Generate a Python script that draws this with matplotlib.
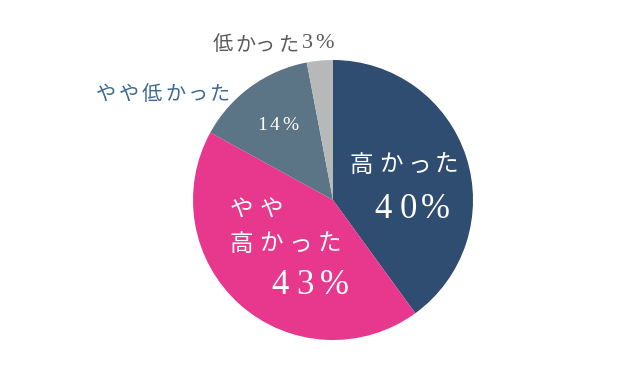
import matplotlib
matplotlib.use("Agg")
import matplotlib.pyplot as plt

labels = ["高かった", "やや高かった", "やや低かった", "低かった"]
values = [40, 43, 14, 3]
colors = ["#2f4d70", "#e8388e", "#5b7486", "#b7b8b8"]

FAM = ["Liberation Serif", "Noto Sans CJK JP", "DejaVu Sans"]

fig = plt.figure(figsize=(6.4, 3.65), dpi=100)
ax = fig.add_axes([0, 0, 1, 1])

H = 365
ax.pie(values, colors=colors, startangle=90, counterclock=False,
       center=(333, H - 200), radius=140,
       wedgeprops=dict(linewidth=0))
ax.set_xlim(0, 640)
ax.set_ylim(0, 365)
ax.set_aspect("equal")
ax.axis("off")


def spaced(s, xs, y, size, color):
    for ch, x in zip(s, xs):
        ax.text(x, H - y, ch, ha="center", va="center", fontsize=size,
                color=color, family=FAM)


# 高かった 40%
spaced("高かった", [361, 391, 419, 446], 166, 17, "white")
spaced("40%", [383, 408, 435], 210, 25, "white")
# やや高かった 43%
spaced("やや", [241, 271], 211, 17, "white")
spaced("高かった", [241, 271, 300, 329], 245, 17, "white")
spaced("43%", [280, 305, 334], 285, 25, "white")
# 14%
spaced("14%", [262, 275, 290], 125, 14, "white")
# やや低かった
spaced("やや低かった", [106, 129, 152, 175, 198, 220], 95, 14.5, "#3d6894")
# 低かった3%
spaced("低かった", [223, 245, 265, 289], 46, 14.5, "#5a5a5a")
spaced("3%", [307, 324], 44, 16, "#5a5a5a")

fig.savefig("out.png", dpi=100)
